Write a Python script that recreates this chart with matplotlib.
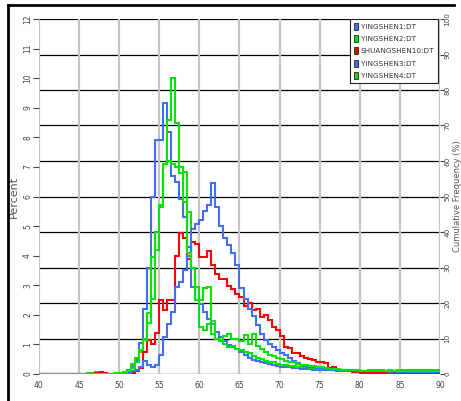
import numpy as np
import matplotlib
matplotlib.use("Agg")
import matplotlib.pyplot as plt
from matplotlib.patches import Patch
from matplotlib.lines import Line2D

# histogram bins: 0.5 wide, 40 -> 90; values listed from 46.0 upward (bins below are empty)
bin_start = 40.0
bin_width = 0.5
first_value_bin = 46.0

yingshen1 = [0, 0, 0, 0, 0, 0, 0, 0, 0.02, 0.05,
             0.13, 0.27, 0.47, 1.06, 2.2, 3.58, 6.0, 7.9, 7.9, 9.17,
             8.19, 6.7, 6.5, 5.9, 5.3, 4.3, 2.95, 2.5, 2.35, 2.1,
             1.85, 1.7, 1.43, 1.26, 1.1, 0.98, 0.9, 0.85, 0.75, 0.64,
             0.55, 0.47, 0.45, 0.42, 0.38, 0.35, 0.3, 0.28, 0.25, 0.24,
             0.22, 0.2, 0.2, 0.18, 0.17, 0.16, 0.15, 0.14, 0.14, 0.13,
             0.12, 0.12, 0.11, 0.1, 0.1, 0.1, 0.09, 0.09, 0.08, 0.08,
             0.08, 0.07, 0.08, 0.07, 0.07, 0.06, 0.07, 0.06, 0.06, 0.06,
             0.06, 0.05, 0.06, 0.05, 0.05, 0.05, 0.05, 0.05]

yingshen2 = [0.02, 0.05, 0.08, 0.06, 0.02, 0, 0, 0.03, 0.05, 0.06,
             0.15, 0.35, 0.55, 0.75, 1.2, 2.05, 2.55, 4.2, 5.7, 7.1,
             8.6, 10.0, 8.5, 7.0, 6.84, 5.48, 3.6, 2.5, 1.6, 1.5,
             1.7, 1.35, 1.2, 1.1, 1.0, 0.9, 0.95, 0.85, 0.8, 0.75,
             0.7, 0.6, 0.55, 0.5, 0.45, 0.4, 0.42, 0.35, 0.32, 0.3,
             0.28, 0.26, 0.25, 0.24, 0.22, 0.2, 0.2, 0.18, 0.18, 0.17,
             0.16, 0.15, 0.15, 0.14, 0.13, 0.12, 0.12, 0.12, 0.11, 0.11,
             0.12, 0.1, 0.12, 0.13, 0.11, 0.12, 0.11, 0.12, 0.13, 0.12,
             0.12, 0.13, 0.12, 0.13, 0.12, 0.13, 0.14, 0.15]

shuangshen10 = [0, 0, 0.04, 0.06, 0.02, 0, 0, 0, 0, 0.01,
                0.02, 0.03, 0.1, 0.2, 0.75, 1.15, 1.0, 1.38, 2.5, 2.16,
                2.5, 2.5, 4.0, 4.75, 4.6, 3.9, 4.47, 4.4, 3.95, 3.95,
                4.15, 3.68, 3.38, 3.2, 3.2, 2.97, 2.87, 2.7, 2.6, 2.3,
                2.4, 2.16, 2.2, 1.94, 2.0, 1.82, 1.6, 1.5, 1.3, 0.92,
                0.88, 0.7, 0.7, 0.6, 0.55, 0.5, 0.47, 0.4, 0.42, 0.38,
                0.2, 0.22, 0.18, 0.15, 0.12, 0.1, 0.08, 0.06, 0.05, 0.05,
                0.04, 0.04, 0.03, 0.04, 0.03, 0.03, 0.03, 0.03, 0.02, 0.03,
                0.02, 0.02, 0.03, 0.02, 0.02, 0.02, 0.02, 0.02]

yingshen3 = [0, 0, 0, 0, 0, 0, 0, 0, 0.01, 0.02,
             0.05, 0.1, 0.15, 0.25, 0.45, 0.3, 0.25, 0.3, 0.65, 1.25,
             1.7, 2.1, 2.95, 3.1, 3.5, 4.0, 4.9, 5.06, 5.2, 5.5,
             5.7, 6.45, 5.65, 5.0, 4.6, 4.35, 4.1, 3.7, 2.9, 2.55,
             2.2, 1.95, 1.65, 1.35, 1.15, 1.0, 0.9, 0.8, 0.72, 0.65,
             0.55, 0.45, 0.38, 0.32, 0.28, 0.25, 0.23, 0.21, 0.2, 0.18,
             0.16, 0.15, 0.14, 0.13, 0.12, 0.11, 0.11, 0.1, 0.1, 0.1,
             0.1, 0.09, 0.1, 0.09, 0.09, 0.08, 0.09, 0.08, 0.08, 0.08,
             0.08, 0.08, 0.07, 0.08, 0.07, 0.07, 0.07, 0.07]

yingshen4 = [0, 0, 0, 0, 0, 0, 0, 0.02, 0.03, 0.05,
             0.1, 0.2, 0.4, 0.8, 1.15, 1.72, 3.96, 4.8, 5.65, 7.1,
             7.2, 7.1, 7.0, 6.8, 5.8, 4.1, 3.6, 2.95, 2.5, 2.9,
             2.95, 1.8, 1.2, 1.15, 1.3, 1.35, 1.2, 1.2, 1.1, 1.32,
             1.0, 1.35, 0.95, 0.85, 0.75, 0.65, 0.6, 0.55, 0.5, 0.45,
             0.42, 0.4, 0.35, 0.32, 0.3, 0.28, 0.26, 0.24, 0.22, 0.2,
             0.18, 0.17, 0.16, 0.15, 0.14, 0.13, 0.12, 0.12, 0.11, 0.11,
             0.11, 0.12, 0.1, 0.11, 0.1, 0.1, 0.11, 0.1, 0.1, 0.1,
             0.1, 0.1, 0.1, 0.1, 0.09, 0.1, 0.1, 0.1]

series_names = ['YINGSHEN1:DT', 'YINGSHEN2:DT', 'SHUANGSHEN10:DT', 'YINGSHEN3:DT', 'YINGSHEN4:DT']
series_data = [yingshen1, yingshen2, shuangshen10, yingshen3, yingshen4]

blue = '#4070f5'
green = '#00e400'
red = '#ff0000'
series_colors = [blue, green, red, blue, green]

x_ticks = [40, 45, 50, 55, 60, 65, 70, 75, 80, 85, 90]
left_ticks = list(range(0, 13))
right_ticks = list(range(0, 101, 10))

lead = int(round((first_value_bin - bin_start) / bin_width))
n_bins = lead + len(yingshen1)
edges = bin_start + bin_width * np.arange(n_bins + 1)

fig = plt.figure(figsize=(4.61, 4.01), dpi=100)
ax = fig.add_axes([39 / 461, 27 / 401, 401 / 461, 355 / 401])
ax2 = ax.twinx()
ax.set_zorder(ax2.get_zorder() + 1)
ax.patch.set_visible(False)

tick_col = '#444444'

# right axis: cumulative frequency scale, black horizontal grid
ax2.set_ylim(0, 100)
ax2.set_yticks(right_ticks)
ax2.set_yticklabels([str(t) for t in right_ticks], rotation=90, va='center',
                    fontsize=5.2, color=tick_col)
ax2.grid(axis='y', color='black', lw=0.9)
ax2.tick_params(axis='y', length=3, width=0.8, color=tick_col, pad=0)
fig.text(457.5 / 461, 204.5 / 401, 'Cumulative Frequency (%)', fontsize=6,
         color='#555555', rotation=90, ha='center', va='center')

for vals, col in zip(series_data, series_colors):
    values = np.concatenate([np.zeros(lead), np.array(vals, dtype=float)])
    ax.stairs(values, edges, color=col, lw=1.5, baseline=None)

ax.set_xlim(40, 90)
ax.set_ylim(0, 12)
ax.set_xticks(x_ticks)
ax.set_xticklabels([str(t) for t in x_ticks], fontsize=5.5, color=tick_col)
ax.set_yticks(left_ticks)
ax.set_yticklabels([str(t) for t in left_ticks], rotation=90, va='center',
                   fontsize=5.5, color=tick_col)
ax.tick_params(axis='x', length=0, pad=5)
ax.tick_params(axis='y', length=4, width=0.8, color=tick_col, pad=1)
ax.grid(axis='x', color='#c4c4c4', lw=1.6)
ax.set_axisbelow(True)
ax.set_ylabel('Percent', fontsize=8, color='#555555', labelpad=3)

for a in (ax, ax2):
    for s in a.spines.values():
        s.set_visible(False)

handles = [Patch(facecolor=c, edgecolor='#222222', lw=0.6) for c in series_colors]
leg = ax.legend(handles, series_names, loc='upper right', bbox_to_anchor=(0.995, 1.0),
                borderaxespad=0, fontsize=5.2, handlelength=0.55, handleheight=1.1,
                handletextpad=0.4, labelspacing=0.75, borderpad=0.5,
                fancybox=False, framealpha=1, edgecolor='#222222')
leg.get_frame().set_linewidth(0.8)
for t in leg.get_texts():
    t.set_color('#333333')

# window frame (left and top edges)
fig.add_artist(Line2D([7.5 / 461, 7.5 / 461], [0, 1 - 5 / 401], transform=fig.transFigure,
                      color='black', lw=2))
fig.add_artist(Line2D([7.5 / 461, 454 / 461], [1 - 5 / 401, 1 - 5 / 401],
                      transform=fig.transFigure, color='black', lw=2))

fig.savefig('out.png', dpi=100)
